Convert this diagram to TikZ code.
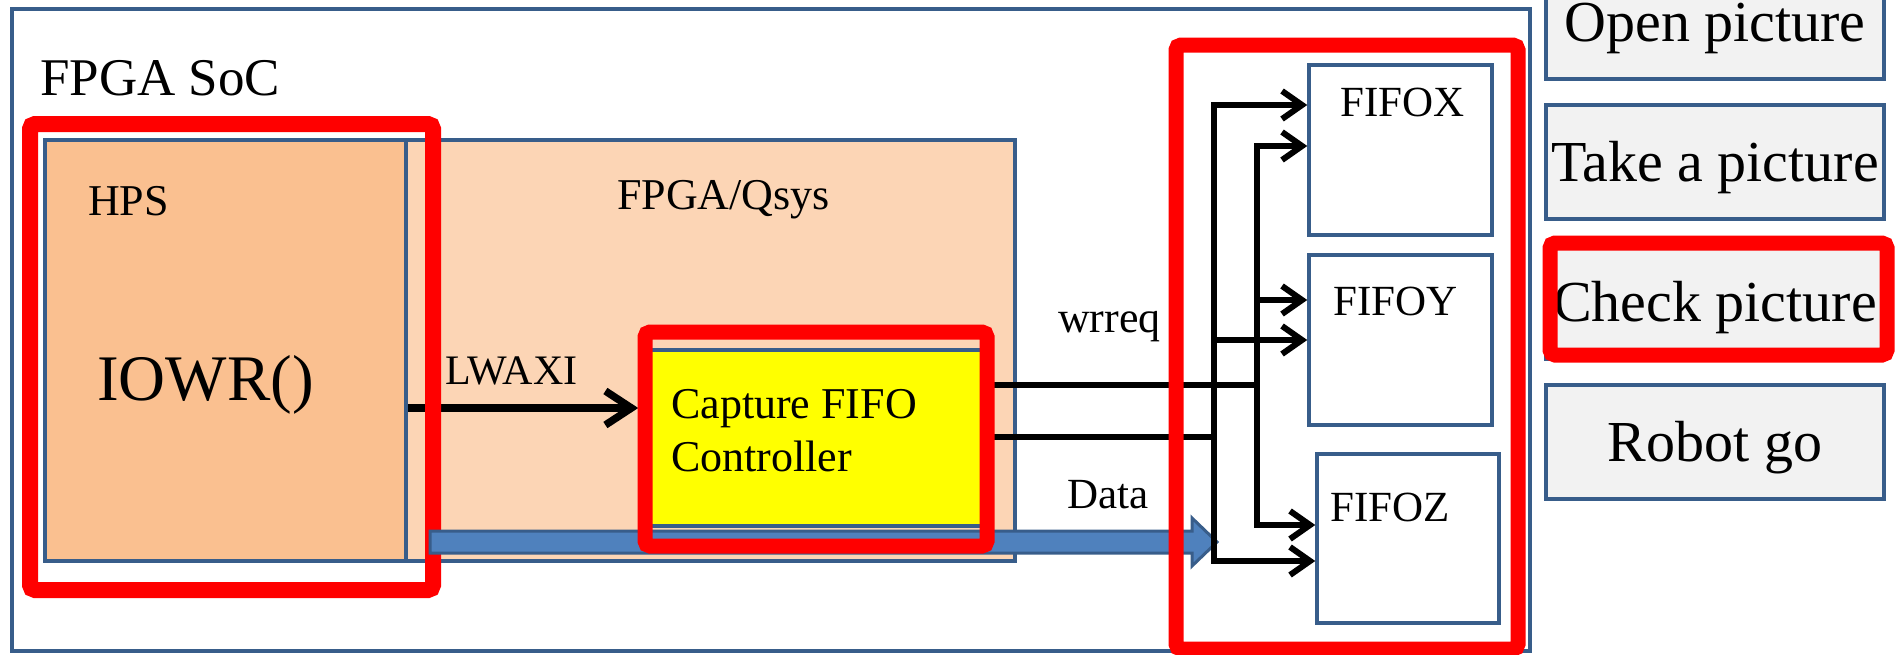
\documentclass[tikz,border=0pt]{standalone}
\usepackage{fontspec}
\setmainfont{Liberation Serif}
\usetikzlibrary{arrows.meta,calc}
\definecolor{boxblue}{RGB}{56,93,138}
\definecolor{hpsfill}{RGB}{250,192,144}
\definecolor{qsysfill}{RGB}{252,213,181}
\definecolor{capyellow}{RGB}{255,255,0}
\definecolor{markred}{RGB}{255,0,0}
\definecolor{databl}{RGB}{79,129,189}
\definecolor{btnfill}{RGB}{242,242,242}
\tikzset{
  blk/.style={draw=boxblue,line width=3.5,inner sep=0pt},
  hilite/.style={draw=markred,line width=15,rounded corners=5pt,inner sep=0pt},
  btn/.style={blk,fill=btnfill,minimum width=338pt,minimum height=114pt,
    font=\fontsize{58}{62}\selectfont,text height=38pt,text depth=0pt},
  fifo/.style={blk,fill=white,minimum width=183pt,minimum height=170pt},
  lbl/.style={inner sep=0pt,anchor=base west,font=\fontsize{44}{53}\selectfont},
  wire/.style={line width=6},
  feed/.style={wire,-{Straight Barb[length=20pt,width=28pt]}},
  datarrow/.style={draw=boxblue,line width=3,fill=databl,line join=miter}
}

\begin{document}
\begin{tikzpicture}[x=1pt,y=-1pt]
  \useasboundingbox (0,0) rectangle (1897,654);
  % SoC frame
  \node[blk,minimum width=1518pt,minimum height=642pt] (soc) at (771,330) {};
  \node[lbl,font=\fontsize{53}{60}\selectfont] (soctxt) at (40,95) {FPGA SoC};
  \node[blk,fill=qsysfill,minimum width=609pt,minimum height=421pt] (qsys) at (710.5,350.5) {};
  \node[blk,fill=hpsfill,minimum width=361pt,minimum height=421pt] (hps) at (225.5,350.5) {};
  \node[blk,fill=capyellow,minimum width=335pt,minimum height=176pt] (capture) at (817.5,438) {};
  \node[lbl] (hpstxt) at (88,215) {HPS};
  \node[lbl,font=\fontsize{65}{70}\selectfont] (iowr) at (97,400) {IOWR()};
  \node[lbl] (qsystxt) at (617,209) {FPGA/Qsys};
  \node[lbl,font=\fontsize{42}{50}\selectfont] (lwaxi) at (445,384) {LWAXI};
  \node[lbl,align=left] (captxt) at (671,471) {Capture FIFO\\Controller};
  \node[lbl] (wrreq) at (1058,332) {wrreq};
  \node[lbl,font=\fontsize{43}{50}\selectfont] (datatxt) at (1067,508) {Data};

  \coordinate (lwy) at (0,408);
  \draw[wire,line width=7.5,-{Straight Barb[length=26pt,width=34pt]},shorten >=10pt]
    (hps.east |- lwy) -- (capture.west |- lwy);
  \node[hilite,line width=16,minimum width=403pt,minimum height=466pt] (hpsmark) at (231.5,357) {};

  % data bus arrow
  \coordinate (dtail) at (430,542);
  \coordinate (dtip) at (1217,542);
  \draw[datarrow] ($(dtail)+(0,-11)$) -- ($(dtip)+(-25,-11)$) -- ($(dtip)+(-25,-24)$)
    -- (dtip) -- ($(dtip)+(-25,24)$) -- ($(dtip)+(-25,11)$) -- ($(dtail)+(0,11)$) -- cycle;

  % FIFOs
  \node[fifo] (fifox) at (1400.5,150) {};
  \node[fifo] (fifoy) at (1400.5,340) {};
  \node[fifo,minimum width=182pt,minimum height=169pt] (fifoz) at (1408,538.5) {};
  \node[lbl,font=\fontsize{43}{50}\selectfont] (fxtxt) at (1340,116) {FIFOX};
  \node[lbl,font=\fontsize{43}{50}\selectfont] (fytxt) at (1333,315) {FIFOY};
  \node[lbl,font=\fontsize{43}{50}\selectfont] (fztxt) at (1330,521) {FIFOZ};

  \coordinate (wry) at (0,385);
  \coordinate (dty) at (0,437);
  \coordinate (ltop) at (1214,105);
  \coordinate (lbot) at (1214,561);
  \coordinate (rtop) at (1257,146);
  \coordinate (rbot) at (1257,525);
  \draw[feed] (capture.east |- dty) -| (ltop) -- (fifox.west |- ltop);
  \draw[feed] (capture.east |- dty) -| (lbot) -- (fifoz.west |- lbot);
  \draw[feed] (ltop |- 0,340) -- (fifoy.west |- 0,340);
  \draw[feed] (capture.east |- wry) -| (rtop) -- (fifox.west |- rtop);
  \draw[feed] (capture.east |- wry) -| (rbot) -- (fifoz.west |- rbot);
  \draw[feed] (rtop |- 0,300) -- (fifoy.west |- 0,300);

  \node[hilite,minimum width=342pt,minimum height=214pt] (capmark) at (816,439) {};
  \node[hilite,minimum width=342pt,minimum height=604pt] (fifomark) at (1347,347) {};

  % buttons
  \node[btn] (open) at (1715,22) {Open picture};
  \node[btn] (take) at (1715,162) {Take a picture};
  \node[btn] (check) at (1715,302) {Check picture};
  \node[btn] (robot) at (1715,442) {Robot go};
  \node[hilite,minimum width=337pt,minimum height=112pt] (checkmark) at (1718.5,299) {};
\end{tikzpicture}
\end{document}
